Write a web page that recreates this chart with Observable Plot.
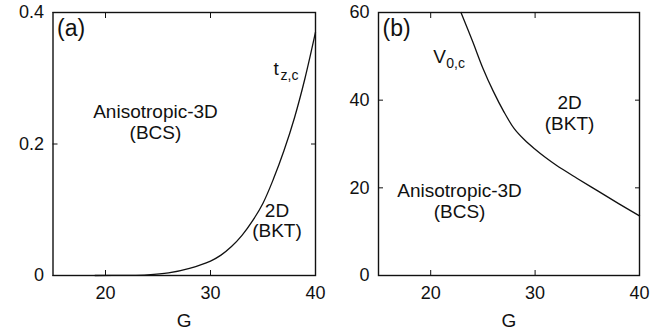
<!DOCTYPE html>
<html><head><meta charset="utf-8">
<script src="https://cdn.jsdelivr.net/npm/d3@7"></script>
<script src="https://cdn.jsdelivr.net/npm/@observablehq/plot@0.6"></script>
<style>
body{margin:0;background:#fff}
#chart{display:flex;width:672px;height:335px}
</style>
</head><body><div id="chart"></div>
<script>
// Panel (a): t_{z,c} vs G
const gA = [19, 22, 24, 26, 28, 30, 31, 32, 33, 34, 35, 36, 37, 38, 39, 40];
const tA = [0, 0.0002, 0.001, 0.004, 0.011, 0.022, 0.031, 0.044, 0.061, 0.083, 0.11, 0.147, 0.19, 0.24, 0.3, 0.37];
// Panel (b): V_{0,c} vs G
const gB = [22.9, 24, 25, 26, 27, 28, 29, 30, 31, 32, 34, 36, 38, 40];
const vB = [60, 53.5, 47.3, 42, 37.4, 33.5, 30.9, 28.8, 26.9, 25.2, 22.2, 19.3, 16.4, 13.6];

const xTicks = [20, 30, 40];
const yTicksA = [0, 0.2, 0.4];
const yTicksB = [0, 20, 40, 60];

// region annotations (position in data units)
const regionsA = [
  {G: 24.76, v: 0.234, text: "Anisotropic-3D\n(BCS)"},
  {G: 36.33, v: 0.084, text: "2D\n(BKT)"}
];
const regionsB = [
  {G: 22.76, v: 17.1, text: "Anisotropic-3D\n(BCS)"},
  {G: 33.3, v: 37.2, text: "2D\n(BKT)"}
];
const curveLabA = [{G: 36.0, v: 0.3057, main: "t", sub: "z,c"}];
const curveLabB = [{G: 20.24, v: 48.4, main: "V", sub: "0,c"}];

const FONT = "'Liberation Sans', Arial, Helvetica, sans-serif";

function panel({G, Y, yDomain, yTicks, ml, mr, tag, regions, curveLab, subDx}) {
  const fmt = d => d === 0 ? "0" : String(d);
  return Plot.plot({
    width: 336, height: 335,
    marginLeft: ml, marginRight: mr, marginTop: 12, marginBottom: 60,
    style: {fontFamily: FONT, fontSize: "18px", color: "#111", background: "#fff"},
    x: {domain: [15, 40]},
    y: {domain: yDomain},
    marks: [
      Plot.frame({stroke: "#111", strokeWidth: 1.4}),
      Plot.axisX({ticks: xTicks, tickSize: 0, tickPadding: 11, tickFormat: fmt, label: null, fontSize: 18}),
      Plot.axisX({ticks: xTicks, tickSize: -5, tickFormat: () => "", label: null}),
      Plot.axisX({ticks: xTicks, anchor: "top", tickSize: -5, tickFormat: () => "", label: null}),
      Plot.axisY({ticks: yTicks, tickSize: 0, tickPadding: 9, tickFormat: fmt, label: null, fontSize: 18}),
      Plot.axisY({ticks: yTicks, tickSize: -5, tickFormat: () => "", label: null}),
      Plot.axisY({ticks: yTicks, anchor: "right", tickSize: -5, tickFormat: () => "", label: null}),
      Plot.text(["G"], {frameAnchor: "bottom", dy: 45, lineAnchor: "middle", fontSize: 19}),
      Plot.line(G.map((g, i) => ({G: g, v: Y[i]})), {x: "G", y: "v", stroke: "#111", strokeWidth: 1.3, curve: "catmull-rom"}),
      Plot.text([tag], {frameAnchor: "top-left", dx: 4, dy: 7, lineAnchor: "top", textAnchor: "start", fontSize: 23}),
      Plot.text(regions, {x: "G", y: "v", text: "text", fontSize: 19, lineHeight: 1.1, lineAnchor: "middle", textAnchor: "middle"}),
      Plot.text(curveLab, {x: "G", y: "v", text: "main", fontSize: 19, lineAnchor: "bottom", textAnchor: "start"}),
      Plot.text(curveLab, {x: "G", y: "v", text: "sub", fontSize: 14, lineAnchor: "bottom", textAnchor: "start", dx: subDx, dy: 5})
    ]
  });
}

const chart = document.getElementById("chart");
chart.append(panel({G: gA, Y: tA, yDomain: [0, 0.4], yTicks: yTicksA, ml: 52.5, mr: 21, tag: "(a)", regions: regionsA, curveLab: curveLabA, subDx: 7}));
chart.append(panel({G: gB, Y: vB, yDomain: [0, 60], yTicks: yTicksB, ml: 42, mr: 33, tag: "(b)", regions: regionsB, curveLab: curveLabB, subDx: 13}));
</script>
</body></html>
